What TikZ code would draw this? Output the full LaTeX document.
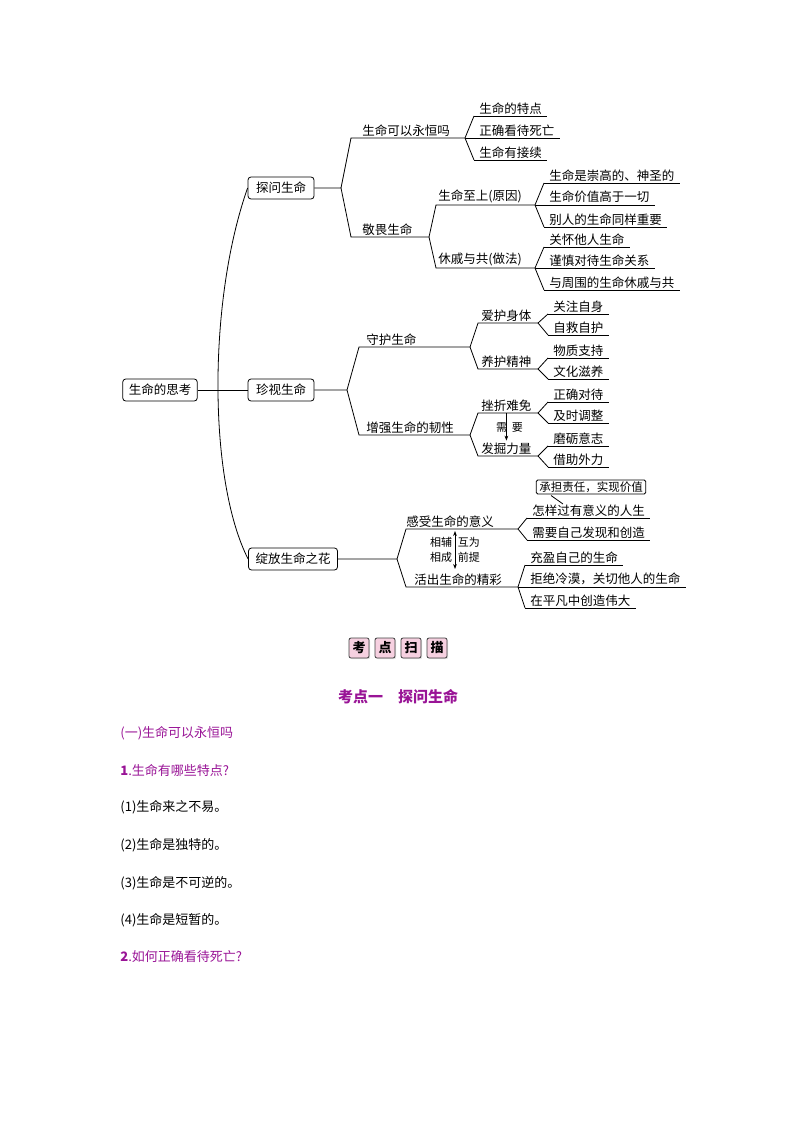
\documentclass[tikz,border=0pt]{standalone}
\usepackage{fontspec}
\setmainfont{Noto Sans CJK SC}
\usetikzlibrary{arrows.meta,shadows}
\definecolor{pur}{RGB}{153,20,150}
\definecolor{pinkbox}{RGB}{246,208,224}
\newcommand{\itm}[4]{\node[item] (#1) at (#2,#3) {#4}; \draw (#1.south west) -- (#1.south east);}
\begin{document}
\begin{tikzpicture}[x=1pt,y=-1pt,line width=0.8pt,
  tf/.style={font=\fontsize{12.5}{13}\selectfont},
  item/.style={tf,anchor=south west,inner xsep=5pt,inner ysep=1.5pt},
  lbl/.style={tf,anchor=south west,inner xsep=2pt,inner ysep=1.5pt},
  rbox/.style={draw,rounded corners=3pt,tf,minimum height=22pt,inner xsep=8pt},
  small/.style={font=\fontsize{11}{11}\selectfont,inner sep=0.5pt},
  kbox/.style={draw=black!75,fill=pinkbox,rounded corners=2pt,minimum size=20pt,inner sep=0pt,font=\fontsize{13}{13}\selectfont\bfseries,drop shadow={shadow xshift=1.2pt,shadow yshift=-1.2pt,fill=gray!45}},
  txt/.style={anchor=west,inner sep=0pt,font=\fontsize{13}{13}\selectfont}]
\useasboundingbox (0,0) rectangle (794,1123);
% main boxes
\node[rbox,inner xsep=6pt] (root) at (160,390) {生命的思考};
\node[rbox] (b1) at (281,188) {探问生命};
\node[rbox] (b2) at (281,390) {珍视生命};
\node[rbox,inner xsep=7pt] (b3) at (293,559) {绽放生命之花};
\draw (root) -- (b2);
\draw (b1.west) .. controls (208,300) and (208,480) .. (b3.west);
% branch 1
\coordinate (f1) at (341,188);
\coordinate (f11) at (465,138);
\coordinate (f12) at (429,237);
\draw (b1.east) -- (f1) -- (351,138) -- (f11);
\draw (f1) -- (351,237) -- (f12);
\node[lbl] (l11) at (360,138) {生命可以永恒吗};
\node[lbl] (l12) at (360,237) {敬畏生命};
\itm{a1}{474}{116}{生命的特点}
\itm{a2}{474}{138}{正确看待死亡}
\itm{a3}{474}{160}{生命有接续}
\foreach \n in {a1,a2,a3} \draw (f11) -- (\n.south west);
\coordinate (f121) at (535,205);
\coordinate (f122) at (535,268);
\draw (f12) -- (436,205) -- (f121);
\draw (f12) -- (436,268) -- (f122);
\node[lbl] (m1) at (436,205) {生命至上(原因)};
\node[lbl] (m2) at (436,268) {休戚与共(做法)};
\itm{c1}{544}{183}{生命是崇高的、神圣的}
\itm{c2}{544}{205}{生命价值高于一切}
\itm{c3}{544}{227}{别人的生命同样重要}
\itm{c4}{544}{247}{关怀他人生命}
\itm{c5}{544}{268}{谨慎对待生命关系}
\itm{c6}{544}{290}{与周围的生命休戚与共}
\foreach \n in {c1,c2,c3} \draw (f121) -- (\n.south west);
\foreach \n in {c4,c5,c6} \draw (f122) -- (\n.south west);
% branch 2
\coordinate (f2) at (347,390);
\coordinate (f21) at (470,347);
\coordinate (f22) at (470,435);
\draw (b2.east) -- (f2) -- (359,347) -- (f21);
\draw (f2) -- (359,435) -- (f22);
\node[lbl] (l21) at (364,347) {守护生命};
\node[lbl] (l22) at (364,435) {增强生命的韧性};
\coordinate (g1) at (538,323);
\coordinate (g2) at (538,369);
\coordinate (g3) at (538,413);
\coordinate (g4) at (538,456);
\draw (f21) -- (478,323) -- (g1);
\draw (f21) -- (478,369) -- (g2);
\draw (f22) -- (478,413) -- (g3);
\draw (f22) -- (478,456) -- (g4);
\node[lbl] (n1) at (479,323) {爱护身体};
\node[lbl] (n2) at (479,369) {养护精神};
\node[lbl] (n3) at (479,413) {挫折难免};
\node[lbl] (n4) at (479,456) {发掘力量};
\draw[-{Stealth[length=5pt]}] (n3.south) -- (n4.north);
\node[small,anchor=east] at (508,428) {需};
\node[small,anchor=west] at (511,428) {要};
\itm{d1}{548}{314}{关注自身}
\itm{d2}{548}{335}{自救自护}
\itm{d3}{548}{358}{物质支持}
\itm{d4}{548}{379}{文化滋养}
\itm{d5}{548}{402}{正确对待}
\itm{d6}{548}{423}{及时调整}
\itm{d7}{548}{446}{磨砺意志}
\itm{d8}{548}{467}{借助外力}
\foreach \n in {d1,d2} \draw (g1) -- (\n.south west);
\foreach \n in {d3,d4} \draw (g2) -- (\n.south west);
\foreach \n in {d5,d6} \draw (g3) -- (\n.south west);
\foreach \n in {d7,d8} \draw (g4) -- (\n.south west);
% branch 3
\coordinate (f3) at (397,559);
\coordinate (f31) at (518,529);
\coordinate (f32) at (518,587);
\draw (b3.east) -- (f3) -- (406,529) -- (f31);
\draw (f3) -- (406,587) -- (f32);
\node[lbl] (l31) at (404,529) {感受生命的意义};
\node[lbl] (l32) at (412,587) {活出生命的精彩};
\coordinate (u1) at (455,531);
\coordinate (u2) at (455,569);
\draw[{Stealth[length=5pt]}-{Stealth[length=5pt]}] (u1) -- (u2);
\node[small,anchor=east] at (453,542) {相辅};
\node[small,anchor=east] at (453,557) {相成};
\node[small,anchor=west] at (457,542) {互为};
\node[small,anchor=west] at (457,557) {前提};
\itm{e1}{527}{518}{怎样过有意义的人生}
\itm{e2}{527}{540}{需要自己发现和创造}
\itm{e3}{525}{565}{充盈自己的生命}
\itm{e4}{525}{587}{拒绝冷漠，关切他人的生命}
\itm{e5}{525}{608}{在平凡中创造伟大}
\foreach \n in {e1,e2} \draw (f31) -- (\n.south west);
\foreach \n in {e3,e4,e5} \draw (f32) -- (\n.south west);
\node[draw,rounded corners=1.5pt,inner xsep=3pt,inner ysep=1.5pt,font=\fontsize{11.5}{12}\selectfont] (cb) at (591,487) {承担责任，实现价值};
\coordinate (cbl) at (551,495.5);
\coordinate (cbe) at (563,504);
\draw (cbl) -- (cbe);
% bottom
\node[kbox] (k1) at (359,648) {考};
\node[kbox] (k2) at (385,648) {点};
\node[kbox] (k3) at (411,648) {扫};
\node[kbox] (k4) at (437,648) {描};
\node[font=\fontsize{15}{15}\selectfont\bfseries,text=pur] (t0) at (398,697) {考点一\hspace{1em}探问生命};
\node[txt,text=pur] (t1) at (120,733) {(一)生命可以永恒吗};
\node[txt,text=pur] (t2) at (120,770) {\textbf{1}.生命有哪些特点?};
\node[txt] (t3) at (120,807) {(1)生命来之不易。};
\node[txt] (t4) at (120,845) {(2)生命是独特的。};
\node[txt] (t5) at (120,883) {(3)生命是不可逆的。};
\node[txt] (t6) at (120,920) {(4)生命是短暂的。};
\node[txt,text=pur] (t7) at (120,957) {\textbf{2}.如何正确看待死亡?};
\end{tikzpicture}
\end{document}
